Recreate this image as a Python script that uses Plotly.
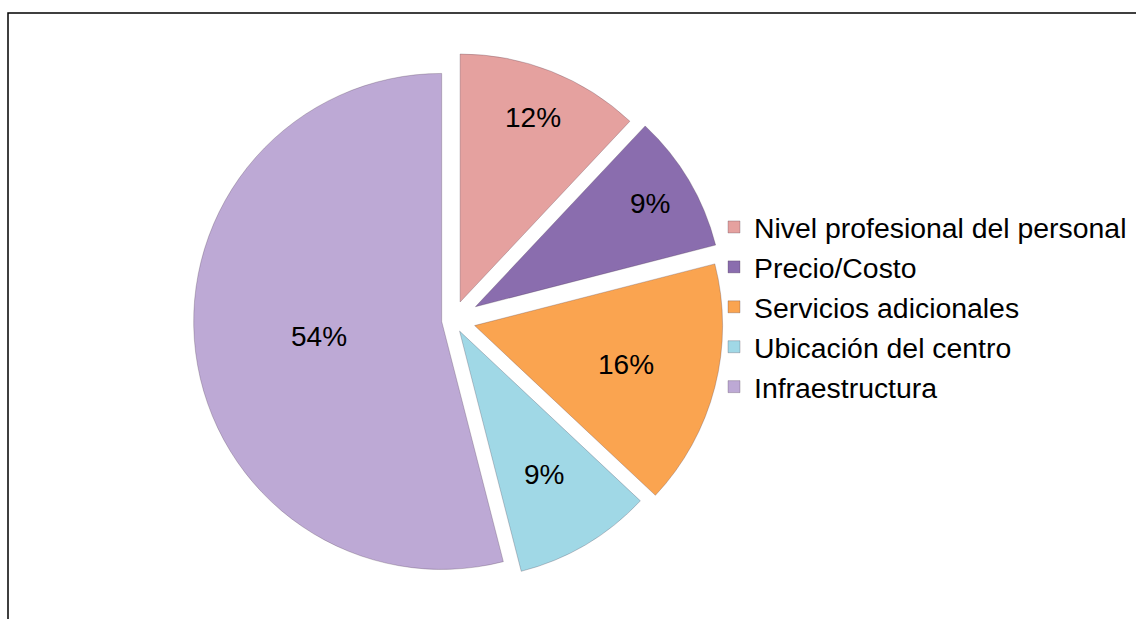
import math
import plotly.graph_objects as go

categories = ["Nivel profesional del personal", "Precio/Costo", "Servicios adicionales",
              "Ubicación del centro", "Infraestructura"]
values = [12, 9, 16, 9, 54]
pulls = [0.078, 0.105, 0.09, 0.052, 0.046]
label_r = [0.80, 0.82, 0.63, 0.67, 0.50]
colors = ["#E5A19F", "#8A6DAE", "#FAA450", "#A0D8E6", "#BDA9D5"]

W, H = 1136, 619
R, maxpull = 248, max(pulls)
side = 2 * R * (1 + maxpull)
cx, cy = 453, 320
FONT = "Liberation Sans, Arial"

fig = go.Figure(go.Pie(
    labels=categories, values=values, pull=pulls, sort=False,
    direction="clockwise", rotation=0,
    marker=dict(colors=colors, line=dict(width=1, color="rgba(60,40,60,0.25)")),
    textinfo="none",
    domain=dict(x=[(cx - side / 2) / W, (cx + side / 2) / W],
                y=[1 - (cy + side / 2) / H, 1 - (cy - side / 2) / H]),
    hoverinfo="label+percent",
))

# percentage labels placed along each slice's bisector
total = sum(values)
annotations = []
start = 0.0
for v, p, rl in zip(values, pulls, label_r):
    mid = (start + v / 2) / total * 2 * math.pi
    start += v
    d = (p + rl) * R
    px = cx + d * math.sin(mid)
    py = cy - d * math.cos(mid)
    annotations.append(dict(x=px / W, y=1 - py / H, xref="paper", yref="paper",
                            xanchor="center", yanchor="middle",
                            text=f"{round(v / total * 100)}%", showarrow=False,
                            font=dict(family=FONT, size=28, color="black")))

fig.update_layout(
    width=W, height=H,
    margin=dict(l=0, r=0, t=0, b=0, autoexpand=False),
    paper_bgcolor="white",
    font=dict(family=FONT, color="black"),
    showlegend=True,
    legend=dict(x=714 / W, xanchor="left", y=1 - 307 / H, yanchor="middle",
                font=dict(size=28.4, family=FONT),
                bgcolor="rgba(0,0,0,0)", tracegroupgap=0),
    annotations=annotations,
    shapes=[dict(type="rect", xref="paper", yref="paper",
                 x0=8 / W, x1=1.02, y0=-0.02, y1=1 - 13 / H,
                 line=dict(color="black", width=1.5))],
)

fig.write_html("out.html", config={"displayModeBar": False},
               post_script="document.body.style.margin='0';")
